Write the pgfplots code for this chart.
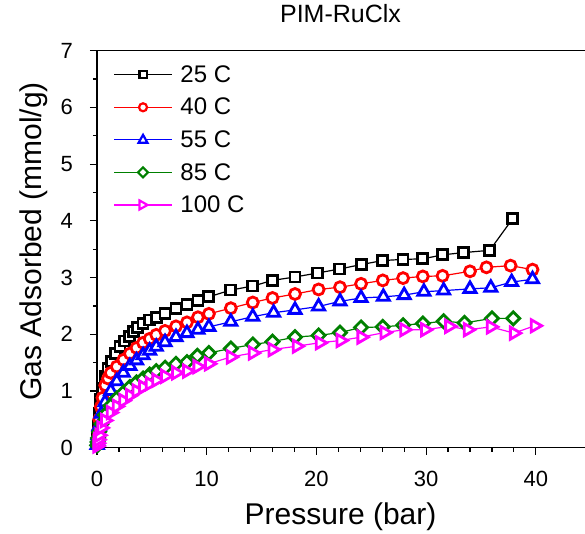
\documentclass[border=0pt]{standalone}
\usepackage{fontspec}
\setmainfont{Liberation Sans}
\usepackage{pgfplots}
\pgfplotsset{compat=1.18}
\definecolor{cblk}{RGB}{0,0,0}
\definecolor{cred}{RGB}{255,0,0}
\definecolor{cblu}{RGB}{0,0,255}
\definecolor{cgrn}{RGB}{0,128,0}
\definecolor{cmag}{RGB}{255,0,255}
\pgfplotstableread{
x y
0.02 0.08
0.05 0.2
0.1 0.38
0.2 0.6
0.35 0.85
0.5 1.05
0.75 1.25
1.0 1.4
1.3 1.52
1.7 1.66
2.1 1.78
2.5 1.88
2.95 1.96
3.3 2.05
3.7 2.12
4.2 2.19
4.8 2.25
5.4 2.30
6.2 2.37
7.2 2.46
8.2 2.52
9.2 2.60
10.2 2.66
12.2 2.78
14.2 2.85
16.0 2.95
18.05 3.01
20.1 3.08
22.1 3.15
24.1 3.23
26.05 3.30
27.9 3.32
29.7 3.33
31.5 3.40
33.4 3.44
35.8 3.48
37.9 4.04
}\tA
\pgfplotstableread{
x y
0.02 0.06
0.05 0.16
0.1 0.3
0.2 0.5
0.35 0.72
0.5 0.88
0.75 1.1
1.0 1.22
1.25 1.32
1.8 1.43
2.4 1.55
3.0 1.66
3.6 1.76
4.2 1.85
4.8 1.92
5.4 1.99
6.2 2.06
7.2 2.14
8.2 2.21
9.2 2.30
10.2 2.36
12.2 2.46
14.2 2.56
16.0 2.64
18.05 2.71
20.2 2.79
22.15 2.83
24.07 2.89
26.05 2.95
27.9 2.99
29.7 3.02
31.5 3.03
34.0 3.11
35.5 3.18
37.7 3.21
39.7 3.14
}\tB
\pgfplotstableread{
x y
0.02 0.05
0.05 0.12
0.1 0.22
0.2 0.38
0.4 0.6
0.73 0.8
1.25 1.0
1.8 1.17
2.4 1.32
3.0 1.44
3.6 1.54
4.2 1.63
4.8 1.71
5.4 1.78
6.2 1.86
7.2 1.95
8.2 2.02
9.2 2.08
10.2 2.13
12.2 2.22
14.2 2.31
16.1 2.38
18.05 2.43
20.2 2.49
22.15 2.58
24.07 2.64
26.1 2.66
28.0 2.69
29.8 2.75
31.6 2.77
34.0 2.80
35.9 2.82
37.8 2.92
39.7 2.97
}\tC
\pgfplotstableread{
x y
0.02 0.04
0.05 0.1
0.1 0.17
0.2 0.28
0.4 0.42
0.73 0.58
1.25 0.74
1.8 0.87
2.4 0.97
3.0 1.07
3.6 1.15
4.2 1.22
4.8 1.29
5.4 1.35
6.2 1.41
7.2 1.48
8.2 1.51
9.15 1.62
10.2 1.67
12.2 1.75
14.2 1.82
16.0 1.87
18.05 1.95
20.2 1.98
22.15 2.03
24.07 2.12
26.05 2.13
27.9 2.16
29.7 2.19
31.6 2.23
33.5 2.20
36.0 2.28
37.95 2.28
}\tD
\pgfplotstableread{
x y
0.02 0.03
0.05 0.08
0.1 0.14
0.2 0.22
0.4 0.35
0.73 0.48
1.25 0.62
1.8 0.73
2.4 0.83
3.0 0.92
3.6 1.0
4.2 1.07
4.8 1.13
5.4 1.19
6.2 1.26
7.2 1.32
8.2 1.35
9.15 1.43
10.2 1.48
12.2 1.60
14.2 1.67
16.0 1.73
18.2 1.79
20.3 1.85
22.2 1.89
24.1 1.95
26.2 2.03
28.0 2.08
29.9 2.08
32.1 2.14
33.8 2.08
35.9 2.13
38.0 2.02
39.9 2.15
}\tE
\begin{document}
\begin{tikzpicture}
\begin{axis}[name=ax,
  scale only axis, width=492pt, height=397pt,
  xmin=0, xmax=44.85, ymin=0, ymax=7,
  clip=false,
  axis line style={line width=1.3pt},
  xtick={0,10,20,30,40}, ytick={0,1,2,3,4,5,6,7},
  minor x tick num=4, minor y tick num=1,
  tick align=outside, xtick pos=bottom, ytick pos=left,
  major tick length=7pt, minor tick length=4pt,
  every tick/.style={line width=1.2pt, black},
  /pgf/number format/assume math mode=true,
  tick label style={font=\fontsize{22}{26}\selectfont},
  xticklabel style={inner sep=0pt, anchor=north, yshift=-16pt},
  yticklabel style={inner sep=0pt, anchor=east, xshift=-17pt},
  xlabel={Pressure (bar)},
  xlabel style={font=\fontsize{30}{36}\selectfont, at={(axis description cs:0.495,0)}, anchor=base, yshift=-77pt},
  ylabel={Gas Adsorbed (mmol/g)},
  ylabel style={font=\fontsize{30}{36}\selectfont, at={(axis description cs:-0.1118,0.52)}, anchor=base, rotate=0},
  title={PIM-RuClx},
  title style={font=\fontsize{25}{30}\selectfont, at={(axis description cs:0.495,1)}, anchor=base, yshift=22pt},
  legend style={draw=none, fill=none, at={(axis description cs:0.033,0.968)}, anchor=north west,
    font=\fontsize{24}{28}\selectfont, row sep=10.3pt, inner sep=0pt},
  legend cell align=left,
  linestyle/.style={line width=1.2pt, mark=none, forget plot},
  markstyle/.style={only marks, line width=2.8pt},
]
% connecting lines
\addplot[cblk, linestyle] table {\tA};
\addplot[cred, linestyle] table {\tB};
\addplot[cblu, linestyle] table {\tC};
\addplot[cgrn, linestyle] table {\tD};
\addplot[cmag, linestyle] table {\tE};
% markers
\addplot[cblk, markstyle, mark=square*, mark size=5pt, mark options={solid, fill=white},
  legend image code/.code={\draw[cblk, line width=1.2pt] (0pt,0pt) -- (58pt,0pt); \draw[cblk, line width=2.2pt, fill=white] (25.4pt,-3.6pt) rectangle (32.6pt,3.6pt); \path (63pt,0pt);}] table {\tA};
\addlegendentry{25 C}
\addplot[cred, markstyle, mark=*, mark size=5.5pt, mark options={solid, fill=white},
  legend image code/.code={\draw[cred, line width=1.2pt] (0pt,0pt) -- (58pt,0pt); \draw[cred, line width=2.2pt, fill=white] (29pt,0pt) circle (4pt); \path (63pt,0pt);}] table {\tB};
\addlegendentry{40 C}
\addplot[cblu, markstyle, mark=triangle*, mark size=7pt, mark options={solid, fill=white},
  legend image code/.code={\draw[cblu, line width=1.2pt] (0pt,0pt) -- (58pt,0pt); \draw[cblu, line width=2.2pt, fill=white, line join=miter] (29pt,5pt) -- (33.5pt,-3pt) -- (24.5pt,-3pt) -- cycle; \path (63pt,0pt);}] table {\tC};
\addlegendentry{55 C}
\addplot[cgrn, markstyle, mark=square*, mark size=4.6pt, mark options={solid, fill=white, rotate=45},
  legend image code/.code={\draw[cgrn, line width=1.2pt] (0pt,0pt) -- (58pt,0pt); \draw[cgrn, line width=2.2pt, fill=white] (29pt,5pt) -- (34pt,0pt) -- (29pt,-5pt) -- (24pt,0pt) -- cycle; \path (63pt,0pt);}] table {\tD};
\addlegendentry{85 C}
\addplot[cmag, markstyle, mark=triangle*, mark size=7pt, mark options={solid, fill=white, rotate=-90},
  legend image code/.code={\draw[cmag, line width=1.2pt] (0pt,0pt) -- (58pt,0pt); \draw[cmag, line width=2.2pt, fill=white, line join=miter] (33.5pt,0pt) -- (25.5pt,4.5pt) -- (25.5pt,-4.5pt) -- cycle; \path (63pt,0pt);}] table {\tE};
\addlegendentry{100 C}
\end{axis}
\pgfresetboundingbox
\path[use as bounding box] ([xshift=-97pt,yshift=-86pt]ax.south west) rectangle ([xshift=488pt,yshift=50.7pt]ax.north west);
\end{tikzpicture}
\end{document}
